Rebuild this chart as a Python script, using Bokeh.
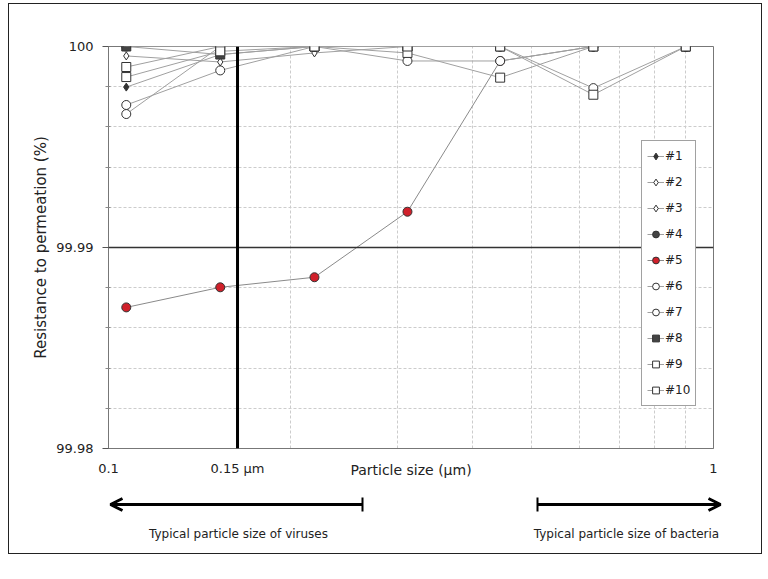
from bokeh.plotting import figure
from bokeh.layouts import column
from bokeh.models import (Range1d, FixedTicker, Span, Label, Arrow, OpenHead, TeeHead,
                          Legend, LegendItem)
from bokeh.embed import file_html
from bokeh.resources import INLINE

# ---------------- data ----------------
particle_size = [0.107, 0.153, 0.219, 0.312, 0.444, 0.633, 0.9]

s1 = [99.99798, 99.99960, 100.0, 100.0, 100.0, 100.0, 100.0]
s2 = [99.99953, 99.99923, 99.99968, 100.0, 100.0, 100.0, 100.0]
s3 = [100.0, 100.0, 100.0, 100.0, 100.0, 100.0, 100.0]
s4 = [100.0, 100.0, 100.0, 100.0, 100.0, 100.0, 100.0]
s5 = [99.98702, 99.98802, 99.98852, 99.99178, 99.99928, 100.0, 100.0]
s6 = [99.99709, 99.99881, 100.0, 99.99928, 99.99928, 100.0, 100.0]
s7 = [99.99664, 100.0, 100.0, 100.0, 100.0, 99.99793, 100.0]
s8 = [100.0, 99.99960, 100.0, 100.0, 100.0, 100.0, 100.0]
s9 = [99.99898, 100.0, 100.0, 99.99968, 99.99845, 100.0, 100.0]
s10 = [99.99848, 99.99976, 100.0, 100.0, 100.0, 99.99760, 100.0]

series_names = ["#1", "#2", "#3", "#4", "#5", "#6", "#7", "#8", "#9", "#10"]
series_values = [s1, s2, s3, s4, s5, s6, s7, s8, s9, s10]

x_tick_values = [0.1, 0.1634, 1.0]
x_tick_labels = ["0.1", "0.15 \u03bcm", "1"]
x_grid_values = [0.2, 0.3, 0.4, 0.5, 0.6, 0.7, 0.8, 0.9]
y_tick_values = [99.98, 99.99, 100.0]
y_tick_labels = ["99.98", "99.99", "100"]
y_grid_values = [99.982, 99.984, 99.986, 99.988, 99.992, 99.994, 99.996, 99.998]
virus_limit = 0.1634

# ---------------- styles ----------------
markers = ["diamond", "diamond", "diamond", "circle", "circle",
           "circle", "circle", "square", "square", "square"]
fills = ["#333333", "white", "white", "#444444", "#d0202a",
         "white", "white", "#444444", "white", "white"]
sizes = [8, 8, 8, 9, 9, 9, 9, 9, 9, 9]
FONT = "DejaVu Sans"
TXT = "#222222"

p = figure(width=752, height=476, x_axis_type="log",
           x_range=Range1d(0.1, 1.0), y_range=Range1d(99.98, 100.0),
           output_backend="svg", toolbar_location=None,
           min_border_left=99, min_border_right=48,
           min_border_top=42, min_border_bottom=29)
p.frame_align = False
p.background_fill_color = "white"
p.border_fill_color = "white"
p.outline_line_color = "#777777"

# grid
p.xgrid.ticker = FixedTicker(ticks=x_grid_values)
p.ygrid.ticker = FixedTicker(ticks=y_grid_values)
for g in (p.xgrid, p.ygrid):
    g.grid_line_color = "#cccccc"
    g.grid_line_dash = "3 2"
    g.grid_line_width = 1

# axes
xa = p.xaxis[0]
xa.ticker = FixedTicker(ticks=x_tick_values, minor_ticks=[])
xa.major_label_overrides = {v: l for v, l in zip(x_tick_values, x_tick_labels)}
xa.major_tick_out = 0
xa.major_tick_in = 0
xa.minor_tick_out = 0
xa.minor_tick_in = 0
xa.major_label_standoff = 12
xa.axis_line_color = "#777777"
xa.axis_label = "Particle size (\u03bcm)"
xa.axis_label_standoff = -17
xa.axis_label_text_font_size = "14px"

ya = p.yaxis[0]
ya.ticker = FixedTicker(ticks=y_tick_values, minor_ticks=y_grid_values)
ya.major_label_overrides = {v: l for v, l in zip(y_tick_values, y_tick_labels)}
ya.major_tick_out = 6
ya.major_tick_in = 0
ya.minor_tick_out = 3
ya.minor_tick_in = 2
ya.major_label_standoff = 9
ya.axis_label = "Resistance to permeation (%)"
ya.axis_label_standoff = 3
ya.axis_label_text_font_size = "15px"
ya.axis_line_color = "#777777"
ya.major_tick_line_color = "#555555"
ya.minor_tick_line_color = "#888888"

for ax in (xa, ya):
    ax.major_label_text_font = FONT
    ax.major_label_text_font_size = "13px"
    ax.major_label_text_color = TXT
    ax.axis_label_text_font = FONT
    ax.axis_label_text_font_style = "normal"
    ax.axis_label_text_color = TXT

# reference lines
p.add_layout(Span(location=99.99, dimension="width", line_color="#333333", line_width=1.5))
p.add_layout(Span(location=virus_limit, dimension="height", line_color="black", line_width=3))

# series
items = []
for name, vals, mk, fc, sz in zip(series_names, series_values, markers, fills, sizes):
    lc = "#8a8a8a" if name == "#5" else "#a0a0a0"
    lr = p.line(particle_size, vals, line_color=lc, line_width=1)
    sr = p.scatter(particle_size, vals, marker=mk, size=sz, fill_color=fc,
                   line_color="#333333", line_width=1)
    items.append(LegendItem(label=name, renderers=[lr, sr]))

legend = Legend(items=items, location=(533, 42))
legend.label_text_font = FONT
legend.label_text_font_size = "12px"
legend.label_text_color = TXT
legend.glyph_width = 17
legend.glyph_height = 20
legend.label_height = 20
legend.label_standoff = 1
legend.spacing = 6
legend.padding = 5
legend.margin = 0
legend.border_line_color = "#444444"
legend.border_line_width = 1
legend.background_fill_color = "white"
legend.background_fill_alpha = 1
p.add_layout(legend)

# ---------------- lower strip: particle-size ranges ----------------
q = figure(width=752, height=73, x_range=Range1d(9, 761), y_range=Range1d(553, 480),
           output_backend="svg", toolbar_location=None,
           min_border=0, min_border_left=0, min_border_right=0,
           min_border_top=0, min_border_bottom=0)
q.frame_align = False
q.axis.visible = False
q.grid.visible = False
q.outline_line_color = None
q.background_fill_color = "white"
q.border_fill_color = "white"

for xs, xe in ((362, 110), (537, 720)):
    q.add_layout(Arrow(x_start=xs, y_start=504, x_end=xe, y_end=504,
                       line_width=3, line_color="black",
                       start=TeeHead(size=14, line_width=2, line_color="black"),
                       end=OpenHead(size=12, line_width=3, line_color="black")))
q.add_layout(Label(x=238, y=533, text="Typical particle size of viruses",
                   text_font=FONT, text_font_size="12px", text_color=TXT,
                   text_align="center", text_baseline="middle"))
q.add_layout(Label(x=626, y=533, text="Typical particle size of bacteria",
                   text_font=FONT, text_font_size="12px", text_color=TXT,
                   text_align="center", text_baseline="middle"))

layout = column(p, q, spacing=0, margin=(4, 0, 0, 9),
                styles={"outline": "1.5px solid #222222"})

open("out.html", "w").write(file_html(layout, INLINE))
